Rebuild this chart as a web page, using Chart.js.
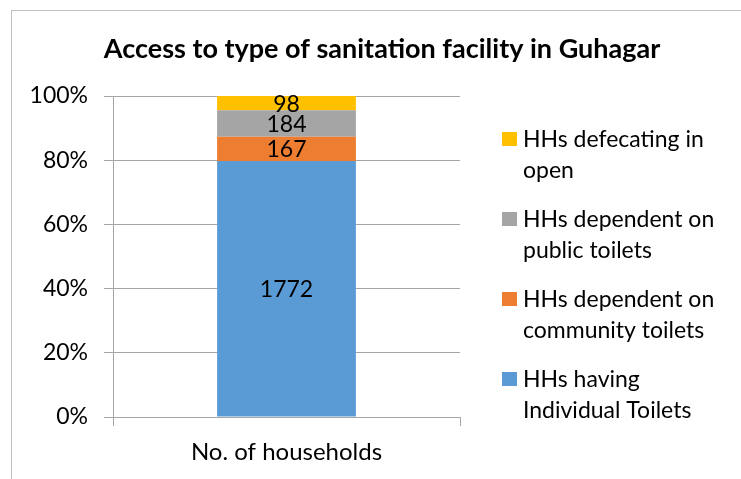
<!DOCTYPE html>
<html lang="en">
<head>
<meta charset="UTF-8">
<title>Access to type of sanitation facility in Guhagar</title>
<script src="https://cdn.jsdelivr.net/npm/chart.js"></script>
<style>
  body { margin: 0; background: #fff; }
  #wrap { position: relative; width: 741px; height: 479px; overflow: hidden; }
  #frame { position: absolute; left: 11px; top: 10px; width: 760px; height: 500px; border: 1px solid #bfbfbf; box-sizing: border-box; }
  canvas { position: absolute; left: 0; top: 0; }
</style>
</head>
<body>
<div id="wrap">
  <div id="frame"></div>
  <canvas id="chart" width="741" height="479"></canvas>
</div>
<script>
// household counts
const categories = ['No. of households'];
const seriesNames = ['HHs having Individual Toilets', 'HHs dependent on community toilets', 'HHs dependent on public toilets', 'HHs defecating in open'];
const individualToilets = [1772];
const communityToilets = [167];
const publicToilets = [184];
const openDefecation = [98];
const yTicks = [0, 20, 40, 60, 80, 100];
const titleText = 'Access to type of sanitation facility in Guhagar';

const colors = ['#5b9bd5', '#ed7d31', '#a5a5a5', '#ffc000'];
const FONT = 'Lato, "Open Sans", sans-serif';
const gridColor = '#a6a6a6';

const counts = [individualToilets, communityToilets, publicToilets, openDefecation];
const totals = categories.map((c, j) => counts.reduce((s, arr) => s + arr[j], 0));

// 100% stacked -> each series as share of the category total
const datasets = counts.map((arr, i) => ({
  label: seriesNames[i],
  data: arr.map((v, j) => v / totals[j] * 100),
  backgroundColor: colors[i],
  borderWidth: 0,
  barPercentage: 0.4,
  categoryPercentage: 1
}));

const extras = {
  id: 'extras',
  afterDatasetsDraw(chart) {
    const ctx = chart.ctx;
    ctx.save();
    ctx.font = '23px ' + FONT;
    ctx.fillStyle = '#000';
    ctx.textAlign = 'center';
    ctx.textBaseline = 'middle';
    chart.data.datasets.forEach((ds, i) => {
      chart.getDatasetMeta(i).data.forEach((bar, j) => {
        const p = bar.getCenterPoint();
        ctx.fillText(String(counts[i][j]), p.x, p.y + 1);
      });
    });
    ctx.restore();
  },
  afterDraw(chart) {
    const ctx = chart.ctx;
    ctx.save();
    // title
    ctx.font = 'bold 27px ' + FONT;
    ctx.fillStyle = '#000';
    ctx.textAlign = 'center';
    ctx.textBaseline = 'alphabetic';
    ctx.fillText(titleText, 382, 58);

    // legend, reversed order, wrapped text
    ctx.font = '23px ' + FONT;
    ctx.textAlign = 'left';
    const maxW = 205;
    let base = 147;
    for (let i = seriesNames.length - 1; i >= 0; i--) {
      const words = seriesNames[i].split(' ');
      const lines = [];
      let cur = '';
      words.forEach(w => {
        const t = cur ? cur + ' ' + w : w;
        if (ctx.measureText(t).width > maxW && cur) { lines.push(cur); cur = w; }
        else cur = t;
      });
      lines.push(cur);
      ctx.fillStyle = colors[i];
      ctx.fillRect(502, base - 15, 15, 14);
      ctx.fillStyle = '#000';
      lines.forEach((l, k) => ctx.fillText(l, 523, base + k * 31));
      base += 80;
    }
    ctx.restore();
  }
};

new Chart(document.getElementById('chart'), {
  type: 'bar',
  data: { labels: categories, datasets: datasets },
  options: {
    responsive: false,
    animation: false,
    devicePixelRatio: 1,
    layout: { padding: { top: 96, right: 281, left: 0, bottom: 0 } },
    plugins: {
      legend: { display: false },
      title: { display: false },
      tooltip: { enabled: false }
    },
    scales: {
      x: {
        stacked: true,
        grid: { offset: true, drawOnChartArea: false, drawTicks: true, tickLength: 9, color: gridColor },
        border: { display: true, color: gridColor },
        ticks: { color: '#000', font: { family: FONT, size: 24 }, padding: 12 },
        afterFit(scale) { scale.height = 62; }
      },
      y: {
        stacked: true,
        min: 0,
        max: 100,
        afterBuildTicks(scale) { scale.ticks = yTicks.map(v => ({ value: v })); },
        grid: { color: gridColor, tickLength: 9 },
        border: { display: true, color: gridColor },
        ticks: { color: '#000', font: { family: FONT, size: 23 }, padding: 16, callback: v => v + '%' },
        afterFit(scale) { scale.width = 113; }
      }
    }
  },
  plugins: [extras]
});
</script>
</body>
</html>
